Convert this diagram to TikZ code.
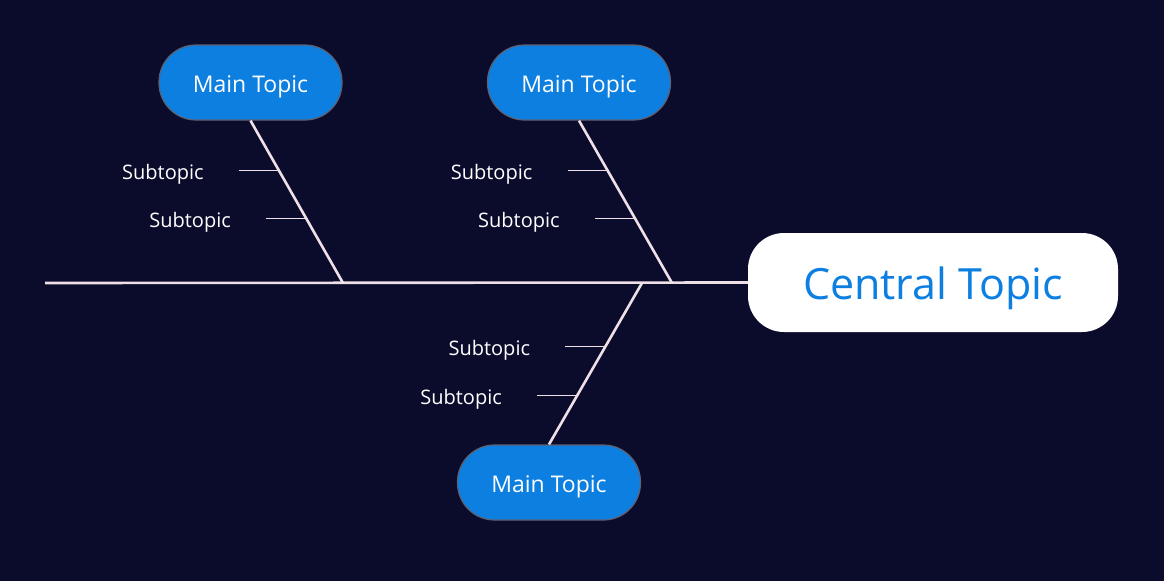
\documentclass[tikz,border=0pt]{standalone}
\usepackage{fontspec}
\setmainfont{Open Sans}
\usepackage{xcolor}
\definecolor{cBack}{HTML}{0B0C2C}
\definecolor{cTopic}{HTML}{0C7FE0}
\definecolor{cEdge}{HTML}{5E6070}
\definecolor{cBone}{HTML}{EEE0E6}
\usepackage{tikz}
\usetikzlibrary{positioning,calc}
\tikzset{
  node-main/.style={draw=cEdge,line width=1.2pt,fill=cTopic,rounded corners=37pt,
    minimum width=183pt,minimum height=75pt,text=white,
    text height=19pt,text depth=0pt,font=\fontsize{23}{27}\selectfont},
  node-central/.style={fill=white,rounded corners=36pt,
    minimum width=370pt,minimum height=99pt,text=cTopic,
    text height=33pt,text depth=0pt,font=\fontsize{43}{50}\selectfont},
  node-sub/.style={text=white,inner sep=0pt,text height=18pt,text depth=0pt,
    font=\fontsize{20}{24}\selectfont},
  line-spine/.style={draw=cBone,line width=2.6pt},
  line-bone/.style={draw=cBone,line width=2.6pt},
  line-sub/.style={draw=cBone,line width=1.3pt},
}

\begin{document}
\begin{tikzpicture}[x=1pt,y=-1pt]
  \fill[cBack] (0,0) rectangle (1164,581);
  \useasboundingbox (0,0) rectangle (1164,581);
  % head and topics
  \node[node-central] (central) at (933,282.5) {Central Topic};
  \node[node-main] (main-a) at (250.5,82.5) {Main Topic};
  \node[node-main] (main-b) at (579,82.5) {Main Topic};
  \node[node-main] (main-c) at (549,482.5) {Main Topic};
  % spine and bones
  \coordinate (tail) at (45,283);
  \coordinate (joint-a) at (343,283);
  \coordinate (joint-b) at (672,283);
  \coordinate (joint-c) at (642,283);
  \draw[line-spine] (tail) -- (central.west);
  \draw[line-bone] (main-a.south) -- (joint-a);
  \draw[line-bone] (main-b.south) -- (joint-b);
  \draw[line-bone] (main-c.north) -- (joint-c);
  % subtopics
  \coordinate (knot-a1) at ($(main-a.south)!0.307!(joint-a)$);
  \coordinate (knot-a2) at ($(main-a.south)!0.601!(joint-a)$);
  \coordinate (knot-b1) at ($(main-b.south)!0.307!(joint-b)$);
  \coordinate (knot-b2) at ($(main-b.south)!0.601!(joint-b)$);
  \coordinate (knot-c1) at ($(joint-c)!0.395!(main-c.north)$);
  \coordinate (knot-c2) at ($(joint-c)!0.698!(main-c.north)$);
  \node[node-sub,left=75pt of knot-a1] (sub-a1) {Subtopic};
  \node[node-sub,left=75pt of knot-a2] (sub-a2) {Subtopic};
  \node[node-sub,left=75pt of knot-b1] (sub-b1) {Subtopic};
  \node[node-sub,left=75pt of knot-b2] (sub-b2) {Subtopic};
  \node[node-sub,left=75pt of knot-c1] (sub-c1) {Subtopic};
  \node[node-sub,left=75pt of knot-c2] (sub-c2) {Subtopic};
  \draw[line-sub] ([xshift=35pt]sub-a1.east) -- (knot-a1);
  \draw[line-sub] ([xshift=35pt]sub-a2.east) -- (knot-a2);
  \draw[line-sub] ([xshift=35pt]sub-b1.east) -- (knot-b1);
  \draw[line-sub] ([xshift=35pt]sub-b2.east) -- (knot-b2);
  \draw[line-sub] ([xshift=35pt]sub-c1.east) -- (knot-c1);
  \draw[line-sub] ([xshift=35pt]sub-c2.east) -- (knot-c2);
\end{tikzpicture}
\end{document}
